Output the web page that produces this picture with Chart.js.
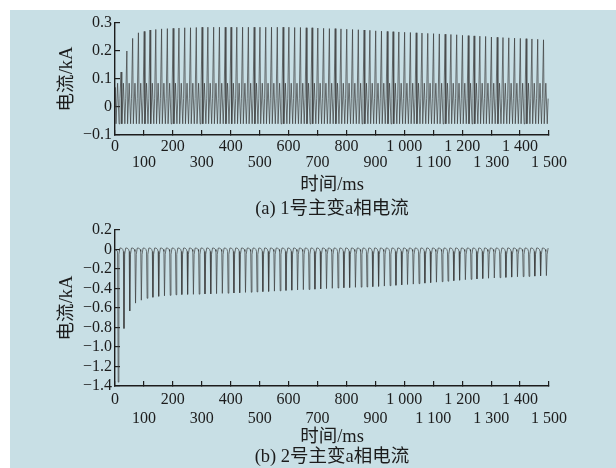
<!DOCTYPE html>
<html lang="zh">
<head>
    <meta charset="UTF-8">
    <title>主变a相电流</title>
    <script src="https://cdn.jsdelivr.net/npm/chart.js@4.4.1/dist/chart.umd.min.js"></script>
    <style>
        html, body { margin: 0; padding: 0; background: #ffffff; }
        .page { position: relative; width: 616px; height: 468px; overflow: hidden; background: #ffffff; }
        .panel { position: absolute; left: 10px; top: 10px; right: 0; bottom: 0; background: #c8dfe5; }
        .plot { position: absolute; left: 0; width: 616px; }
        #chartA { top: 0; height: 234px; }
        #chartB { top: 200px; height: 268px; }
    </style>
</head>
<body>
<div class="page">
    <div class="panel"></div>
    <div class="plot" id="chartA"><canvas id="currentA"></canvas></div>
    <div class="plot" id="chartB"><canvas id="currentB"></canvas></div>
</div>

<script>
    // one power-frequency cycle, ms
    var cycleMs = 20;

    // (a) 1号主变: peak of the tall spike in each cycle, kA
    var peakA = [
        0.07, 0.125, 0.2, 0.245, 0.265, 0.27, 0.275, 0.277, 0.279, 0.28,
        0.281, 0.282, 0.283, 0.283, 0.284, 0.285, 0.285, 0.285, 0.285, 0.285,
        0.285, 0.285, 0.285, 0.285, 0.285, 0.285, 0.285, 0.285, 0.285, 0.285,
        0.285, 0.284, 0.284, 0.283, 0.283, 0.282, 0.281, 0.28, 0.28, 0.279,
        0.278, 0.277, 0.276, 0.275, 0.274, 0.272, 0.271, 0.27, 0.269, 0.268,
        0.267, 0.266, 0.265, 0.264, 0.263, 0.262, 0.261, 0.26, 0.259, 0.258,
        0.256, 0.255, 0.254, 0.253, 0.252, 0.25, 0.249, 0.248, 0.247, 0.246,
        0.245, 0.244, 0.243, 0.242, 0.24
    ];
    // levels between the spikes, kA
    var troughA = -0.06;
    var bumpA = 0.085;
    var shoulderA = 0.03;

    // (b) 2号主变: bottom of the deep dip in each cycle, kA
    var dipB = [
        -1.36, -0.81, -0.63, -0.55, -0.52, -0.5, -0.49, -0.48, -0.475, -0.47,
        -0.465, -0.462, -0.46, -0.46, -0.458, -0.456, -0.455, -0.453, -0.45, -0.448,
        -0.446, -0.444, -0.44, -0.438, -0.435, -0.432, -0.43, -0.427, -0.424, -0.42,
        -0.417, -0.415, -0.412, -0.41, -0.407, -0.404, -0.401, -0.398, -0.395, -0.392,
        -0.39, -0.388, -0.386, -0.384, -0.381, -0.378, -0.375, -0.371, -0.367, -0.363,
        -0.359, -0.355, -0.35, -0.345, -0.34, -0.335, -0.33, -0.325, -0.32, -0.315,
        -0.31, -0.306, -0.302, -0.298, -0.295, -0.292, -0.289, -0.286, -0.283, -0.28,
        -0.278, -0.276, -0.273, -0.27, -0.268
    ];
    // top of the arch between dips, kA
    var topB = 0.015;

    // axis ticks
    var timeTicks = [0, 100, 200, 300, 400, 500, 600, 700, 800, 900, 1000, 1100, 1200, 1300, 1400, 1500];
    var currentTicksA = [-0.1, 0, 0.1, 0.2, 0.3];
    var currentTicksB = [-1.4, -1.2, -1.0, -0.8, -0.6, -0.4, -0.2, 0, 0.2];

    var fontFamily = "'Liberation Serif', 'Noto Sans CJK SC', serif";
    var ink = '#1c1c1c';

    // build the sampled waveform of each transformer from its per-cycle levels
    function waveA() {
        var pts = [{x: 0, y: 0}];
        peakA.forEach(function (p, k) {
            var t = k * cycleMs;
            pts.push({x: t + 1, y: p});
            pts.push({x: t + 3.5, y: troughA});
            pts.push({x: t + 9, y: bumpA});
            pts.push({x: t + 14, y: troughA});
            pts.push({x: t + 17, y: shoulderA});
        });
        return pts;
    }

    function waveB() {
        var pts = [{x: 0, y: 0}];
        dipB.forEach(function (d, k) {
            var t = k * cycleMs;
            pts.push({x: t + 9, y: -0.02});
            pts.push({x: t + 11, y: d});
            pts.push({x: t + 13.5, y: -0.05});
            pts.push({x: t + 17, y: topB});
            pts.push({x: t + 22, y: topB});
            pts.push({x: t + 27, y: 0});
        });
        return pts.filter(function (p) { return p.x <= 1500; });
    }

    function msLabel(v) {
        var s = v >= 1000 ? Math.floor(v / 1000) + ' ' + String(v % 1000).padStart(3, '0') : String(v);
        // even hundreds on the first row, odd on the second
        return (v / 100) % 2 === 0 ? [s, ''] : ['', s];
    }

    function kaLabel(v) {
        if (Math.abs(v) < 1e-9) return '0';
        return (v < 0 ? '\u2212' : '') + Math.abs(v).toFixed(1);
    }

    function makeChart(id, points, yTicks, caption, o) {
        return new Chart(document.getElementById(id), {
            type: 'line',
            data: {
                datasets: [{
                    data: points,
                    borderColor: '#3c3c3c',
                    borderWidth: 0.7,
                    pointRadius: 0,
                    tension: 0
                }]
            },
            options: {
                responsive: true,
                maintainAspectRatio: false,
                animation: false,
                events: [],
                layout: {padding: {left: 0, top: o.top, right: 67, bottom: o.bottom}},
                plugins: {legend: {display: false}, tooltip: {enabled: false}},
                scales: {
                    x: {
                        type: 'linear',
                        min: 0,
                        max: 1500,
                        afterBuildTicks: function (s) { s.ticks = timeTicks.map(function (v) { return {value: v}; }); },
                        afterFit: function (s) { s.height = o.xHeight; },
                        border: {color: ink, width: 1.4},
                        grid: {drawOnChartArea: false, tickLength: -5, color: ink, lineWidth: 1.2},
                        ticks: {
                            autoSkip: false,
                            maxRotation: 0,
                            padding: o.xPad,
                            color: ink,
                            font: {family: fontFamily, size: 16, lineHeight: o.xLine},
                            callback: msLabel
                        },
                        title: {
                            display: true,
                            text: ['时间/ms', caption],
                            color: ink,
                            padding: {top: 0, bottom: 0},
                            font: {family: fontFamily, size: 18.5, lineHeight: o.titleLine}
                        }
                    },
                    y: {
                        type: 'linear',
                        min: yTicks[0],
                        max: yTicks[yTicks.length - 1],
                        afterBuildTicks: function (s) { s.ticks = yTicks.map(function (v) { return {value: v}; }); },
                        afterFit: function (s) { s.width = 115; },
                        border: {color: ink, width: 1.4},
                        grid: {drawOnChartArea: false, tickLength: -5, color: ink, lineWidth: 1.2},
                        ticks: {
                            autoSkip: false,
                            padding: 8,
                            color: ink,
                            font: {family: fontFamily, size: 16},
                            callback: kaLabel
                        },
                        title: {
                            display: true,
                            text: '电流/kA',
                            color: ink,
                            padding: {top: 56, bottom: 0},
                            font: {family: fontFamily, size: 18.5, lineHeight: 1.2}
                        }
                    }
                }
            }
        });
    }

    makeChart('currentA', waveA(), currentTicksA, '(a) 1号主变a相电流',
        {top: 23, bottom: 13, xHeight: 86, xPad: 8, xLine: 1.05, titleLine: 1.3});
    makeChart('currentB', waveB(), currentTicksB, '(b) 2号主变a相电流',
        {top: 30, bottom: 1, xHeight: 81, xPad: 9.5, xLine: 1.19, titleLine: 1.08});
</script>
</body>
</html>
